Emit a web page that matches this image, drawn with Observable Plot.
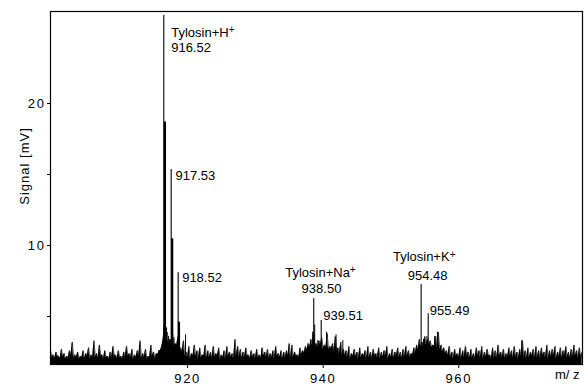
<!DOCTYPE html>
<html><head><meta charset="utf-8">
<script src="https://cdn.jsdelivr.net/npm/d3@7"></script>
<script src="https://cdn.jsdelivr.net/npm/@observablehq/plot@0.6"></script>
<style>
body{margin:0;background:#fff}
[aria-label="x-axis tick label"] text,[aria-label="y-axis tick label"] text{letter-spacing:1.6px}
</style></head><body><div id="chart"></div>
<script>
// Background noise of the spectrum: local maxima every 0.4 m/z from 899.8,
// and local minima half-way between them
const noiseStart = 899.8, noiseStep = 0.4;
const noiseSignal = [
 2.6,2.3,2.5,2.2,2.7,2.4,2.2,2.6,3.2,2.3,
 2.5,2.2,2.6,2.4,2.8,2.3,3.3,2.4,3.0,2.3,
 2.6,2.2,2.5,2.9,2.3,2.6,2.2,2.5,2.9,2.4,
 2.7,2.3,2.6,3.3,2.4,2.7,2.2,3.0,2.5,2.4,
 2.6,2.9,4.6,3.9,3.4,3.8,3.1,3.6,2.8,3.3,
 2.5,2.9,2.4,3.0,2.6,2.8,2.3,3.0,2.6,2.5,
 2.9,2.4,2.8,2.3,2.6,2.9,2.5,2.4,3.4,2.9,
 2.7,2.5,2.8,2.3,2.6,2.4,2.7,2.3,2.8,2.5,
 2.7,2.4,2.6,2.9,2.4,2.6,2.5,2.6,3.1,3.0,
 2.5,2.3,2.8,2.6,2.9,3.1,3.4,3.8,3.1,3.3,
 3.5,3.0,3.8,2.9,3.1,3.6,2.8,3.2,2.7,2.6,
 2.9,2.4,2.7,2.5,2.8,2.4,2.6,2.9,2.5,2.7,
 2.4,2.8,2.5,2.6,2.9,2.4,2.7,2.5,2.8,2.5,
 2.7,2.9,2.6,2.4,2.8,3.0,3.4,3.2,3.6,3.4,
 3.3,3.0,3.6,3.9,3.0,2.8,2.6,2.9,2.5,2.7,
 2.4,2.8,2.6,2.9,2.5,2.7,2.4,2.8,2.6,2.9,
 2.5,2.7,2.3,2.8,2.6,3.0,2.5,2.7,2.4,2.8,
 2.6,2.9,2.5,2.7,3.3,2.6,2.8,2.5,2.7,2.9,
 2.6,2.8,2.5,3.0,2.6,2.7,2.9,2.5,2.8,2.6,
 2.9,2.5,2.7,3.0,2.6,2.8,2.5
];
const noiseTrough = [
 2.1,2.0,2.2,2.0,2.1,2.0,2.1,2.2,2.0,2.1,
 2.0,2.1,2.0,2.2,2.0,2.1,2.1,2.0,2.2,2.0,
 2.1,2.0,2.1,2.2,2.0,2.1,2.0,2.1,2.2,2.1,
 2.0,2.1,2.2,2.0,2.1,2.0,2.1,2.2,2.0,2.3,
 2.6,3.4,3.6,3.1,3.3,2.9,3.0,2.6,2.5,
 2.2,2.1,2.0,2.2,2.1,2.0,2.1,2.2,2.0,2.1,2.0,
 2.1,2.2,2.0,2.1,2.0,2.2,2.1,2.0,2.2,2.1,
 2.0,2.1,2.2,2.0,2.1,2.0,2.1,2.0,2.2,2.1,
 2.0,2.1,2.0,2.2,2.1,2.0,2.1,2.2,2.0,2.1,2.2,2.1,2.3,
 2.4,2.6,2.8,3.0,2.9,2.8,3.0,2.7,2.8,2.6,2.7,2.5,2.6,2.4,2.3,
 2.2,2.1,2.0,2.2,2.1,2.0,2.1,2.2,2.0,2.1,2.0,2.2,
 2.1,2.0,2.1,2.2,2.0,2.1,2.0,2.2,2.1,2.0,2.1,2.2,2.1,2.3,
 2.4,2.6,2.8,2.9,3.0,2.9,2.8,2.9,2.7,2.6,2.5,2.4,
 2.2,2.1,2.0,2.2,2.1,2.0,2.1,2.2,2.0,2.1,2.0,2.2,2.1,2.0,
 2.1,2.2,2.0,2.1,2.0,2.2,2.1,2.0,2.1,2.2,2.0,2.1,2.0,2.2,2.1,2.0,2.1,2.2,2.0,2.1,
 2.0,2.2,2.1,2.0,2.1,2.2,2.0,2.1,2.0,2.2,2.1,2.0,2.1,2.2,2.0,2.1
];
// Main (labelled) peaks
const peakMz     = [916.49, 917.58, 918.61, 938.61, 939.71, 954.45, 955.49];
const peakSignal = [26.2,   15.35,  8.08,   6.25,   4.72,   7.25,   5.19];
// Broad shoulders of the isotope peaks
const shoulderMz     = [916.66, 917.73, 918.73];
const shoulderSignal = [18.7,   10.47,  4.6];
// Minor spikes
const minorMz     = [916.9, 917.2, 918.0, 919.7, 938.45, 938.75, 939.2, 940.5, 941.9, 942.9, 954.8, 955.3, 956.45, 956.85, 969.3];
const minorSignal = [4.2,   3.6,   3.5,   3.7,   3.9,    4.4,    3.3,   3.9,   3.7,   3.3,   3.4,   3.6,   3.6,    3.9,    3.3];

// Annotations (left aligned)
const leftText   = ["Tylosin+H\u207A", "916.52", "917.53", "918.52", "939.51", "955.49"];
const leftMz     = [917.58, 917.58, 918.22, 919.20, 940.0, 955.72];
const leftSignal = [25.0, 23.95, 14.93, 7.73, 5.02, 5.39];
// Annotations (centred)
const midText   = ["Tylosin+Na\u207A", "938.50", "Tylosin+K\u207A", "954.48"];
const midMz     = [939.6, 939.75, 954.9, 955.4];
const midSignal = [8.10, 6.97, 9.18, 7.87];

const xDomain = [899.78, 978.25];
const yDomain = [1.62, 26.48];
const xTicks = [920, 940, 960];
const yTicks = [5, 10, 15, 20];
const yTickLabels = ["", "10", "", "20"];
const xLabel = "m/ z";
const yLabel = "Signal [mV]";

const noise = noiseSignal.map((s, i) => ({mz: noiseStart + i * noiseStep, signal: s}))
  .concat(noiseTrough.map((s, j) => ({mz: noiseStart + noiseStep / 2 + j * noiseStep, signal: s})))
  .sort((a, b) => a.mz - b.mz);
const peaks = peakMz.map((m, i) => ({mz: m, signal: peakSignal[i]}));
const shoulders = shoulderMz.map((m, i) => ({mz: m, signal: shoulderSignal[i]}));
const minors = minorMz.map((m, i) => ({mz: m, signal: minorSignal[i]}));
const leftLabels = leftText.map((t, i) => ({t, mz: leftMz[i], signal: leftSignal[i]}));
const midLabels = midText.map((t, i) => ({t, mz: midMz[i], signal: midSignal[i]}));

const font = "'Liberation Sans', Arial, Helvetica, sans-serif";
const plot = Plot.plot({
  width: 586, height: 387,
  marginLeft: 50, marginRight: 4, marginTop: 11, marginBottom: 23,
  style: {fontFamily: font, fontSize: "13px", background: "#fff", color: "#000"},
  x: {domain: xDomain, ticks: xTicks, tickSize: 4, tickPadding: 5, label: null, tickFormat: d => String(d)},
  y: {domain: yDomain, ticks: yTicks, tickSize: 3, tickPadding: 2, label: null,
      tickFormat: d => yTickLabels[yTicks.indexOf(d)]},
  marks: [
    Plot.areaY(noise, {x: "mz", y1: 0, y2: "signal", fill: "#000", clip: true}),
    Plot.lineY(noise, {x: "mz", y: "signal", stroke: "#000", strokeWidth: 0.7, clip: true}),
    Plot.ruleX(minors, {x: "mz", y1: 0, y2: "signal", stroke: "#000", strokeWidth: 1, clip: true}),
    Plot.ruleX(shoulders, {x: "mz", y1: 0, y2: "signal", stroke: "#000", strokeWidth: 2.2, clip: true}),
    Plot.ruleX(peaks, {x: "mz", y1: 0, y2: "signal", stroke: "#000", strokeWidth: 1.1, clip: true}),
    Plot.frame({stroke: "#000", strokeWidth: 1.2}),
    Plot.text(leftLabels, {x: "mz", y: "signal", text: "t", textAnchor: "start", fontSize: 13, fill: "#000"}),
    Plot.text(midLabels, {x: "mz", y: "signal", text: "t", textAnchor: "middle", fontSize: 13, fill: "#000"}),
    Plot.text([yLabel], {frameAnchor: "left", textAnchor: "middle", rotate: -90, dx: -26, dy: -22, fontSize: 13, fill: "#000", ariaLabel: "y-label"}),
    Plot.text([xLabel], {frameAnchor: "bottom-right", textAnchor: "end", dx: -3, dy: 14, fontSize: 13, fill: "#000"})
  ]
});
// render the "+" of the ion names as a real superscript
d3.select(plot).selectAll("text").each(function () {
  const t = this.textContent;
  if (t.endsWith("\u207A") && this.children.length === 0) {
    const s = d3.select(this);
    s.text(t.slice(0, -1));
    s.append("tspan").attr("dy", "-0.38em").attr("font-size", "10px").text("+");
  }
  if (t === yLabel) d3.select(this).style("letter-spacing", "1px");
});
document.getElementById("chart").appendChild(plot);
</script></body></html>
